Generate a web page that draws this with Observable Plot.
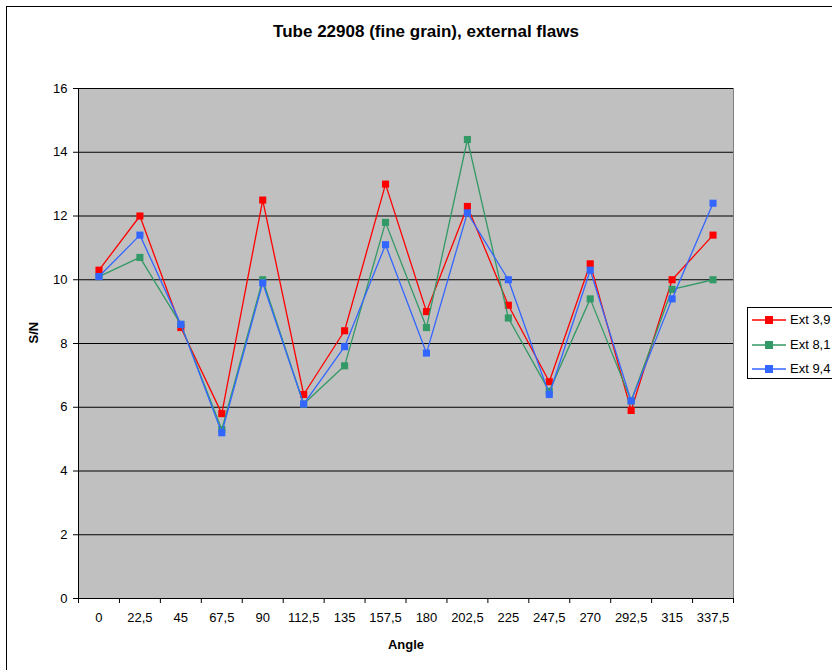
<!DOCTYPE html>
<html><head><meta charset="utf-8">
<script src="https://cdn.jsdelivr.net/npm/d3@7"></script>
<script src="https://cdn.jsdelivr.net/npm/@observablehq/plot@0.6"></script>
<style>
body{margin:0;overflow:hidden;background:#fff;font-family:"Liberation Sans",Arial,sans-serif;}
#wrap{position:relative;width:832px;height:670px;overflow:hidden;}
#border{position:absolute;left:6px;top:6px;width:900px;height:700px;border:1px solid #000;}
#chart{position:absolute;left:0;top:0;}
#title{position:absolute;left:0;width:852px;top:22px;text-align:center;font-weight:bold;font-size:17px;color:#000;}
#legend{position:absolute;left:747px;top:307px;width:130px;height:70px;border:1px solid #000;background:#fff;}
.row{position:absolute;left:4px;height:15px;font-size:13px;line-height:15px;white-space:nowrap;}
.row svg{vertical-align:middle;margin-right:4px;}
.row span{vertical-align:middle;}
</style></head>
<body>
<div id="wrap">
<div id="border"></div>
<div id="chart"></div>
<div id="title">Tube 22908 (fine grain), external flaws</div>
<div id="legend"></div>
</div>
<script>
const angles = [0, 22.5, 45, 67.5, 90, 112.5, 135, 157.5, 180, 202.5, 225, 247.5, 270, 292.5, 315, 337.5];
const seriesNames = ["Ext 3,9", "Ext 8,1", "Ext 9,4"];
const ext39 = [10.3, 12.0, 8.5, 5.8, 12.5, 6.4, 8.4, 13.0, 9.0, 12.3, 9.2, 6.8, 10.5, 5.9, 10.0, 11.4];
const ext81 = [10.1, 10.7, 8.6, 5.3, 10.0, 6.1, 7.3, 11.8, 8.5, 14.4, 8.8, 6.5, 9.4, 6.2, 9.7, 10.0];
const ext94 = [10.1, 11.4, 8.6, 5.2, 9.9, 6.1, 7.9, 11.1, 7.7, 12.1, 10.0, 6.4, 10.3, 6.2, 9.4, 12.4];
const colors = ["#FF0000", "#339966", "#3366FF"];
const yTicks = [0, 2, 4, 6, 8, 10, 12, 14, 16];

const fmt = v => String(v).replace(".", ",");
const seriesValues = [ext39, ext81, ext94];
const data = [];
seriesValues.forEach((vals, s) => vals.forEach((v, i) => data.push({i, angle: angles[i], v, s: seriesNames[s]})));
const idx = angles.map((_, i) => i);
const bounds = angles.map((_, i) => i - 0.5).concat([angles.length - 0.5]);

const marks = [
  Plot.frame({fill: "#C0C0C0", stroke: "#808080"}),
  Plot.ruleY(yTicks.filter(t => t > 0), {stroke: "#000", strokeWidth: 1}),
  Plot.ruleY([0], {stroke: "#000"}),
  Plot.ruleX([-0.5], {stroke: "#000"}),
  Plot.axisY({ticks: yTicks, tickSize: 5, tickPadding: 6, fontSize: 13, label: null, tickFormat: d => fmt(d)}),
  Plot.axisX({ticks: bounds, tickSize: 5, tickFormat: () => "", label: null}),
  Plot.axisX({ticks: idx, tickSize: 0, tickPadding: 14, fontSize: 13, label: null, tickFormat: i => fmt(angles[i])}),
  Plot.text(["S/N"], {frameAnchor: "left", dx: -45, rotate: -90, fontWeight: "bold", fontSize: 13}),
  Plot.text(["Angle"], {frameAnchor: "bottom", dy: 50, fontWeight: "bold", fontSize: 13})
];
seriesNames.forEach((name, s) => {
  const d = data.filter(r => r.s === name);
  marks.push(Plot.line(d, {x: "i", y: "v", stroke: colors[s], strokeWidth: 1.3}));
  marks.push(Plot.dot(d, {x: "i", y: "v", symbol: "square", r: 4, fill: colors[s], stroke: "none"}));
});

const chart = Plot.plot({
  width: 832, height: 670,
  marginLeft: 78, marginRight: 99, marginTop: 88, marginBottom: 72,
  style: {background: "transparent", fontFamily: "Liberation Sans, Arial, sans-serif", fontSize: "13px", color: "#000"},
  x: {type: "linear", domain: [-0.5, angles.length - 0.5]},
  y: {domain: [0, 16]},
  marks
});
document.getElementById("chart").appendChild(chart);

const legend = document.getElementById("legend");
const rowTops = [3, 28, 52];
seriesNames.forEach((name, s) => {
  const row = document.createElement("div");
  row.className = "row";
  row.style.top = rowTops[s] + "px";
  row.innerHTML = `<svg width="34" height="12"><line x1="0" x2="34" y1="6" y2="6" stroke="${colors[s]}" stroke-width="1.5"/><rect x="13" y="2" width="8" height="8" fill="${colors[s]}"/></svg><span>${name}</span>`;
  legend.appendChild(row);
});
</script>
</body></html>
